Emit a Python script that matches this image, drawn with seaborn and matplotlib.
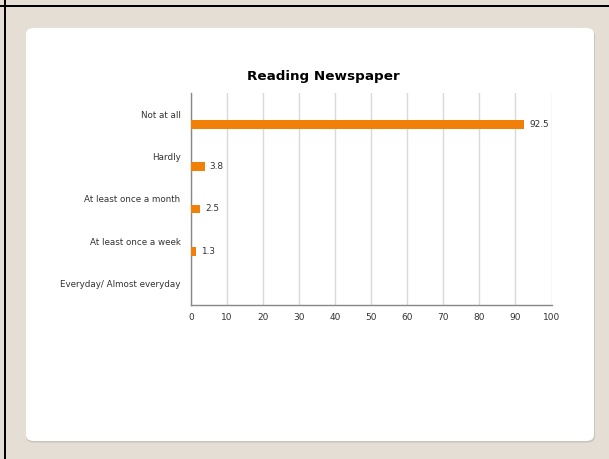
import matplotlib
matplotlib.use("Agg")
import matplotlib.pyplot as plt
from matplotlib.patches import FancyBboxPatch, Rectangle
import seaborn as sns
import pandas as pd

# data
categories = ["Not at all", "Hardly", "At least once a month",
              "At least once a week", "Everyday/ Almost everyday"]
values = [92.5, 3.8, 2.5, 1.3, 0.0]
x_ticks = [0, 10, 20, 30, 40, 50, 60, 70, 80, 90, 100]

df = pd.DataFrame({"Category": categories, "Percent": values})

sns.set_style("white")
plt.rcParams["font.family"] = ["DejaVu Sans"]

W, H = 609, 459
fig = plt.figure(figsize=(W / 100, H / 100), dpi=100)
fig.patch.set_facecolor("#e4ded4")

# black frame lines on the left and top
fig.add_artist(Rectangle((4 / W, 0), 2 / W, 1, transform=fig.transFigure,
                         facecolor="black", edgecolor="none"))
fig.add_artist(Rectangle((0, 1 - 7 / H), 1, 2 / H, transform=fig.transFigure,
                         facecolor="black", edgecolor="none"))

# white rounded card with a soft shadow
card_l, card_r, card_t, card_b = 26, 594, 28, 441
shadow = FancyBboxPatch((card_l / W, 1 - (card_b + 1.5) / H),
                        (card_r - card_l + 1) / W, (card_b - card_t) / H,
                        boxstyle="round,pad=0,rounding_size=0.013",
                        transform=fig.transFigure, facecolor="#c9c3b9",
                        edgecolor="none", zorder=0)
card = FancyBboxPatch((card_l / W, 1 - card_b / H),
                      (card_r - card_l) / W, (card_b - card_t) / H,
                      boxstyle="round,pad=0,rounding_size=0.013",
                      transform=fig.transFigure, facecolor="white",
                      edgecolor="none", zorder=0)
fig.add_artist(shadow)
fig.add_artist(card)

ax = fig.add_axes([191 / W, 1 - 305 / H, (551.5 - 191) / W, (305 - 93) / H])
ax.set_facecolor("none")

sns.barplot(data=df, y="Category", x="Percent", orient="h", color="#f08008",
            saturation=1, width=0.21, linewidth=0, ax=ax, zorder=3)

# bars sit in the lower part of each category band
for p in ax.patches:
    p.set_y(p.get_y() + 0.235)
    w = p.get_width()
    if w > 0:
        ax.text(w + 1.4, p.get_y() + p.get_height() / 2, f"{w:.1f}",
                va="center", ha="left", fontsize=6.4, color="#333333")

ax.set_xlim(0, 100)
ax.set_ylim(4.5, -0.5)
ax.set_xticks(x_ticks)
ax.set_yticks(range(len(categories)))
ax.set_yticks([i - 0.5 for i in range(len(categories) + 1)], minor=True)
ax.tick_params(axis="y", which="major", length=0, pad=7.5, labelsize=6.3,
               labelcolor="#333333")
ax.tick_params(axis="y", which="minor", length=5, color="#999999", width=0.8)
ax.tick_params(axis="x", length=3, pad=3, labelsize=6.5, labelcolor="#333333",
               color="#999999")
ax.xaxis.grid(True, color="#d9d9d9", linewidth=1, zorder=0)
ax.set_axisbelow(True)
ax.set_xlabel("")
ax.set_ylabel("")
for s in ["top", "right"]:
    ax.spines[s].set_visible(False)
for s in ["left", "bottom"]:
    ax.spines[s].set_color("#888888")
    ax.spines[s].set_linewidth(1)

fig.text(323.5 / W, 1 - 76.5 / H, "Reading Newspaper", ha="center", va="center",
         fontsize=9.7, fontweight="bold", color="black")

fig.savefig("out.png", dpi=100, facecolor=fig.get_facecolor())
